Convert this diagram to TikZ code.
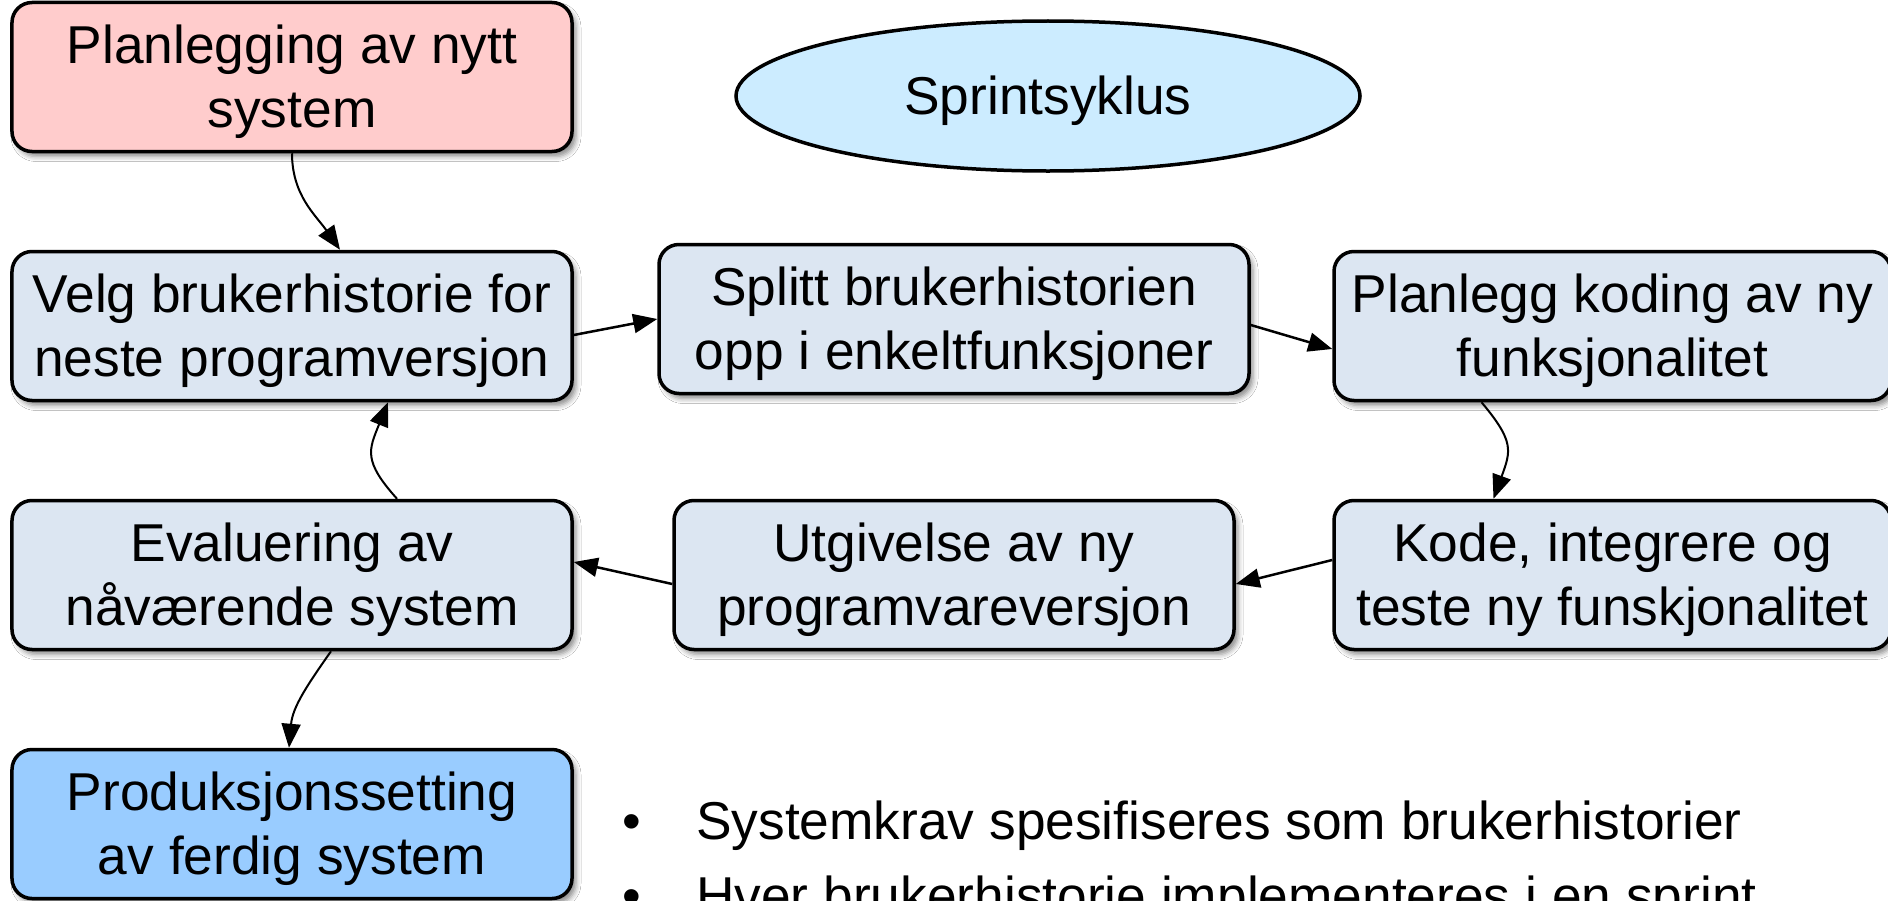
\documentclass[tikz,border=0pt]{standalone}
\usepackage{fontspec}
\setmainfont{Liberation Sans}
\usetikzlibrary{arrows.meta,calc,shapes.geometric,shadows.blur}
\definecolor{boxblue}{HTML}{DCE6F2}
\definecolor{boxpink}{HTML}{FFCCCC}
\definecolor{ellblue}{HTML}{CCECFF}
\definecolor{prodblue}{HTML}{99CCFF}
\tikzset{
  x=1bp, y=1bp,
  box/.style={draw=black, line width=3.5bp, rounded corners=20bp, fill=boxblue,
    minimum width=560bp, minimum height=149bp, align=center, inner sep=0pt,
    text height=112bp, text depth=11bp,
    font=\fontsize{53.5}{64}\selectfont,
    blur shadow={shadow xshift=4bp, shadow yshift=-5bp, shadow blur radius=5bp, shadow opacity=45}},
  sarr/.style={line width=2.5bp, -{Triangle[length=24bp,width=19bp]}},
  carr/.style={line width=2bp, -{Triangle[length=24bp,width=19bp]}},
  btext/.style={font=\fontsize{53.5}{64}\selectfont, inner sep=0pt}
}
\begin{document}
\begin{tikzpicture}
\useasboundingbox (0,0) rectangle (1888,-901);
\clip (0,0) rectangle (1888,-901);
\fill[white] (0,0) rectangle (1888,-901);

\node[box, fill=boxpink] (plan) at (292,-77) {Planlegging av nytt\\system};
\node[draw=black, line width=3.5bp, ellipse, fill=ellblue, minimum width=624bp, minimum height=150bp,
  inner sep=0pt, text height=47bp, text depth=11bp,
  font=\fontsize{53.5}{64}\selectfont] (sprint) at (1048,-96) {Sprintsyklus};
\node[box] (velg) at (292,-326) {Velg brukerhistorie for\\neste programversjon};
\node[box, minimum width=590bp] (split) at (954,-319) {Splitt brukerhistorien\\opp i enkeltfunksjoner};
\node[box, minimum width=557bp] (koding) at (1612.5,-326) {Planlegg koding av ny\\funksjonalitet};
\node[box] (eval) at (292,-575) {Evaluering av\\nåværende system};
\node[box] (utg) at (954,-575) {Utgivelse av ny\\programvareversjon};
\node[box, minimum width=557bp] (kode) at (1612.5,-575) {Kode, integrere og\\teste ny funskjonalitet};
\node[box, fill=prodblue] (prod) at (292,-824) {Produksjonssetting\\av ferdig system};

\draw[carr] (plan.south) to[out=-90,in=125] ($(velg.north)+(48,0)$);
\draw[sarr] ($(velg.east)+(0,-9)$) -- (split.west);
\draw[sarr] ($(split.east)+(0,-6)$) -- ($(koding.west)+(0,-23)$);
\draw[carr] ($(koding.south)+(-131,0)$) to[out=-50,in=70,looseness=1.35] ($(kode.north)+(-119,0)$);
\draw[sarr] ($(kode.west)+(0,15)$) -- ($(utg.east)+(0,-9)$);
\draw[sarr] ($(utg.west)+(0,-9)$) -- ($(eval.east)+(0,13)$);
\draw[carr] ($(eval.north)+(105,0)$) to[out=132,in=-112,looseness=1.35] ($(velg.south)+(96,0)$);
\draw[carr] ($(eval.south)+(39,0)$) to[out=-125,in=85] ($(prod.north)+(-3,0)$);

\node[btext, anchor=base] (b1) at (632,-839) {•};
\node[btext, anchor=base west] (t1) at (696,-839) {Systemkrav spesifiseres som brukerhistorier};
\node[btext, anchor=base] (b2) at (632,-914) {•};
\node[btext, anchor=base west] (t2) at (696,-914) {Hver brukerhistorie implementeres i en sprint};
\end{tikzpicture}
\end{document}
